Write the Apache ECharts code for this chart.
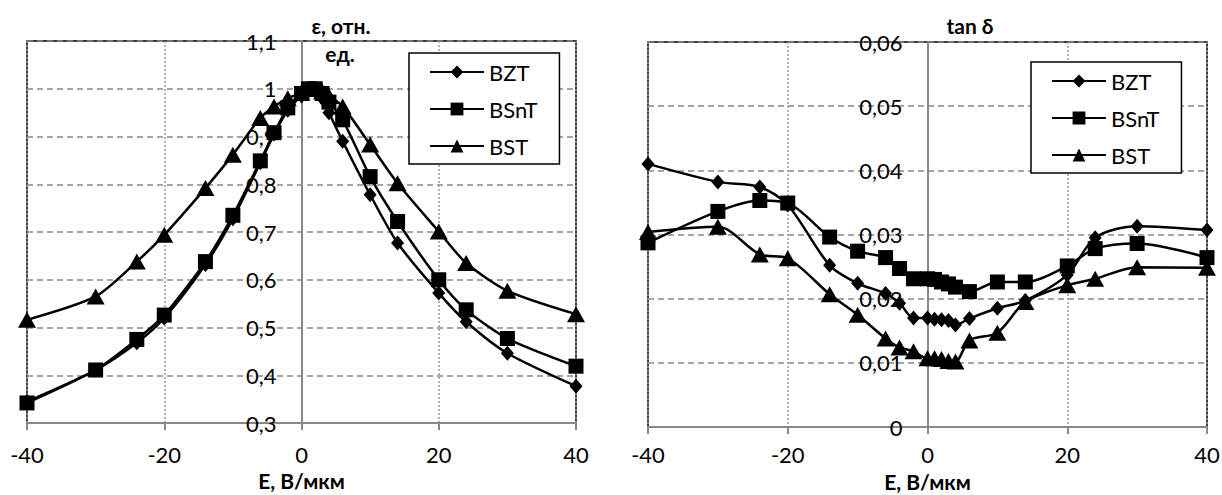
<!DOCTYPE html>
<html>
<head>
<meta charset="utf-8">
<script src="https://cdn.jsdelivr.net/npm/echarts@6/dist/echarts.min.js"></script>
<style>
html,body{margin:0;padding:0;background:#fff;}
#c{width:1222px;height:495px;}
</style>
</head>
<body>
<div id="c"></div>
<script>
// Field strength, V/µm
const E = [-40,-30,-24,-20,-14,-10,-6,-4,-2,0,1,2,3,4,6,10,14,20,24,30,40];
const seriesNames = ['BZT','BSnT','BST'];
// Relative permittivity
const epsBZT  = [0.345,0.411,0.468,0.520,0.632,0.728,0.845,0.905,0.955,0.985,0.995,1.000,0.980,0.950,0.890,0.778,0.677,0.572,0.512,0.446,0.377];
const epsBSnT = [0.342,0.411,0.475,0.526,0.638,0.735,0.849,0.908,0.960,0.990,1.000,1.000,0.990,0.972,0.935,0.816,0.722,0.600,0.537,0.477,0.419];
const epsBST  = [0.516,0.565,0.638,0.694,0.792,0.862,0.939,0.963,0.980,0.992,1.000,1.000,0.995,0.985,0.963,0.883,0.802,0.701,0.635,0.577,0.528];
// Loss tangent
const tanBZT  = [0.0410,0.0382,0.0374,0.0346,0.0252,0.0224,0.0208,0.0193,0.0170,0.0170,0.0168,0.0167,0.0166,0.0159,0.0169,0.0185,0.0197,0.0237,0.0295,0.0313,0.0307];
const tanBSnT = [0.0287,0.0336,0.0353,0.0349,0.0296,0.0274,0.0264,0.0247,0.0231,0.0231,0.0230,0.0226,0.0223,0.0218,0.0211,0.0226,0.0226,0.0251,0.0278,0.0286,0.0264];
const tanBST  = [0.0304,0.0312,0.0269,0.0263,0.0207,0.0175,0.0138,0.0124,0.0118,0.0107,0.0107,0.0106,0.0103,0.0102,0.0135,0.0147,0.0195,0.0221,0.0231,0.0249,0.0248];
// Axis text
const xTitle = 'E, В/мкм';
const epsTitle1 = 'ε, отн.';
const epsTitle2 = 'ед.';
const tanTitle = 'tan δ';

const FONT = "Lato, 'Open Sans', sans-serif";
const symbols = {BZT:['diamond',[13,15]], BSnT:['rect',[15,15]], BST:['triangle',[18,16]]};

function pairs(vals){ return E.map((x,i)=>[x, vals[i]]); }

function mkSeries(name, vals, idx, smooth){
  return {
    name, type:'line', xAxisIndex:idx, yAxisIndex:idx,
    data: pairs(vals), smooth: smooth,
    symbol: symbols[name][0], symbolSize: symbols[name][1],
    itemStyle:{color:'#000'}, lineStyle:{color:'#000', width:2.5},
    animation:false, z:5
  };
}

function xAx(idx, margin, nameGap){
  return {
    gridIndex: idx, type:'value', min:-40, max:40, interval:20,
    name: xTitle, nameLocation:'middle', nameGap,
    nameTextStyle:{fontFamily:FONT, fontSize:21, fontWeight:'bold', color:'#000'},
    axisLine:{onZero:false, lineStyle:{color:'#888', width:2}},
    axisTick:{show:true, length:7, lineStyle:{color:'#888', width:2}},
    axisLabel:{fontFamily:FONT, fontSize:22, color:'#000', margin},
    splitLine:{show:true, lineStyle:{color:'#999', width:1.5, type:[2,2]}}
  };
}
function yAx(idx, min, max, interval, dec, offset){
  return {
    gridIndex: idx, type:'value', min, max, interval, position:'left', offset,
    axisLine:{show:true, onZero:false, lineStyle:{color:'#888', width:2}},
    axisTick:{show:false},
    axisLabel:{fontFamily:FONT, fontSize:22, color:'#000', margin:25,
      formatter: v => String(Math.round(v*dec)/dec).replace('.',',')},
    splitLine:{show:true, lineStyle:{color:'#888', width:1.5, type:[6,4]}}
  };
}
function legend(left, top){
  return {
    data: seriesNames, orient:'vertical', left, top,
    padding:[8,22,7,20], itemGap:15, itemWidth:54, itemHeight:16,
    backgroundColor:'#fff', borderColor:'#000', borderWidth:1.5, borderRadius:0,
    textStyle:{fontFamily:FONT, fontSize:22, color:'#000'},
    selectedMode:false, z:10
  };
}

const G0 = {left:27, right:646, top:41, bottom:72};
const G1 = {left:648, right:15, top:42, bottom:68};
const W = 1222;
const w0 = W - G0.left - G0.right, w1 = W - G1.left - G1.right;

const chart = echarts.init(document.getElementById('c'), null, {renderer:'svg'});
chart.setOption({
  backgroundColor:'#fff',
  animation:false,
  grid:[
    Object.assign({show:true, borderColor:'#000', borderWidth:1.5, backgroundColor:'#fff', containLabel:false, outerBoundsMode:'none'}, G0),
    Object.assign({show:true, borderColor:'#000', borderWidth:1.5, backgroundColor:'#fff', containLabel:false, outerBoundsMode:'none'}, G1)
  ],
  xAxis:[xAx(0, 20, 46), xAx(1, 16, 44)],
  yAxis:[yAx(0,0.3,1.1,0.1,10,-w0/2), yAx(1,0,0.06,0.01,100,-w1/2)],
  legend:[legend(409,53), legend(1031,62)],
  series:[
    mkSeries('BZT', epsBZT, 0, 0.25),
    mkSeries('BSnT', epsBSnT, 0, 0.25),
    mkSeries('BST', epsBST, 0, 0.25),
    mkSeries('BZT', tanBZT, 1, 0.3),
    mkSeries('BSnT', tanBSnT, 1, 0.3),
    mkSeries('BST', tanBST, 1, 0.3)
  ],
  graphic:[
    {type:'text', x:341, y:25, z:20, style:{text:epsTitle1, align:'center', verticalAlign:'middle', font:"bold 21px "+FONT, fill:'#000'}},
    {type:'text', x:340, y:53, z:20, style:{text:epsTitle2, align:'center', verticalAlign:'middle', font:"bold 21px "+FONT, fill:'#000'}},
    {type:'text', x:970, y:25, z:20, style:{text:tanTitle, align:'center', verticalAlign:'middle', font:"bold 21px "+FONT, fill:'#000'}}
  ]
});
</script>
</body>
</html>
